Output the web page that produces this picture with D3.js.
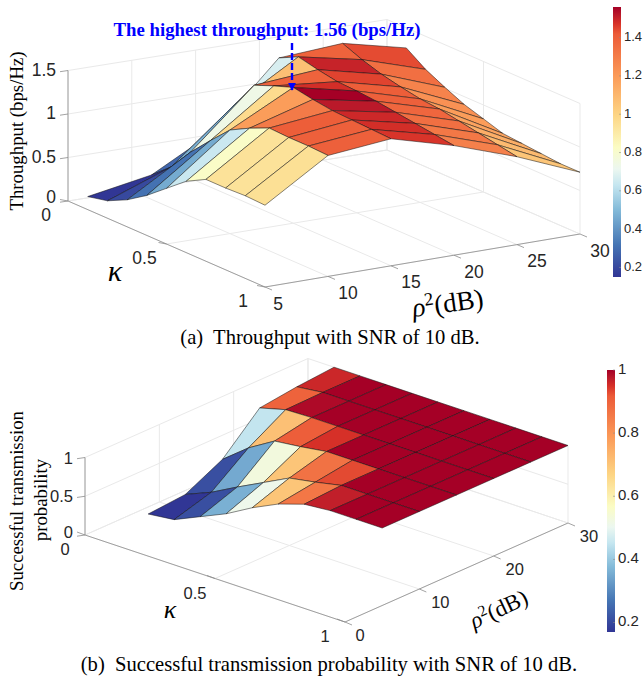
<!DOCTYPE html>
<html>
<head>
<meta charset="utf-8">
<script src="https://cdnjs.cloudflare.com/ajax/libs/d3/7.8.5/d3.min.js"></script>
<style>
  html, body { margin: 0; padding: 0; background: #fff; }
  svg { display: block; }
  text { font-family: "Liberation Sans", Arial, sans-serif; fill: #262626; }
  .serif { font-family: "Liberation Serif", "Times New Roman", serif; fill: #000; }
</style>
</head>
<body>
<svg id="chart" width="643" height="679"></svg>
<script>
//// DATA

const kappaValues = [0.1, 0.2, 0.3, 0.4, 0.5, 0.6, 0.7, 0.8, 0.9, 1]
const rhoValues = [5, 10, 15, 20, 25, 30]

// rows follow kappaValues, columns follow rhoValues
const throughput = [
  [0.15, 0.28, 0.67, 1.39, 1.44, 1.27],
  [0.20, 0.47, 1.07, 1.50, 1.35, 1.12],
  [0.31, 0.74, 1.39, 1.45, 1.28, 1.01],
  [0.46, 0.97, 1.48, 1.41, 1.23, 0.91],
  [0.64, 1.19, 1.56, 1.40, 1.19, 0.84],
  [0.82, 1.31, 1.52, 1.38, 1.17, 0.77],
  [0.94, 1.41, 1.49, 1.35, 1.13, 0.75],
  [0.94, 1.40, 1.48, 1.32, 1.09, 0.73],
  [0.95, 1.40, 1.47, 1.29, 1.05, 0.71],
  [0.94, 1.39, 1.46, 1.26, 1.01, 0.71]
]
const probability = [
  [0.17, 0.21, 0.45, 0.90, 0.96, 1.00],
  [0.21, 0.35, 0.71, 0.99, 1.00, 1.00],
  [0.36, 0.53, 0.91, 1.00, 1.00, 1.00],
  [0.51, 0.70, 0.95, 1.00, 1.00, 1.00],
  [0.70, 0.87, 1.00, 1.00, 1.00, 1.00],
  [0.86, 0.93, 1.00, 1.00, 1.00, 1.00],
  [0.97, 1.00, 1.00, 1.00, 1.00, 1.00],
  [1.00, 1.00, 1.00, 1.00, 1.00, 1.00],
  [1.00, 1.00, 1.00, 1.00, 1.00, 1.00],
  [1.00, 1.00, 1.00, 1.00, 1.00, 1.00]
]

const kappaTicks = [0, 0.5, 1]
const rhoTicksA = [5, 10, 15, 20, 25, 30]
const rhoTicksB = [0, 10, 20, 30]
const zTicksA = [0, 0.5, 1, 1.5]
const zTicksB = [0, 0.5, 1]
const barTicksA = [0.2, 0.4, 0.6, 0.8, 1, 1.2, 1.4]
const barTicksB = [0.2, 0.4, 0.6, 0.8, 1]

// colormap, position along the bar then colour
const mapStops = [0, 0.12, 0.25, 0.34, 0.40, 0.48, 0.6, 0.745, 0.90, 0.94, 0.97, 1]
const mapColors = ["#313695", "#4575b4", "#84bbd9", "#c5e6f0", "#ecf7f0", "#fbfcc4",
  "#fdd584", "#fb9a58", "#ec5b38", "#d63028", "#bb1a2a", "#a50026"]

const gridColor = "#e9e9e9"
const axisColor = "#8c8c8c"

const svg = d3.select("#chart")

//// 3D BOX

// the ground of each box is a quad given by its four screen corners,
// kappa and rho are mapped to 0..1 and the corners blended (slight perspective)
function mkProjection(cfg) {
  const kScale = d3.scaleLinear().domain([0, 1]).range([0, 1])
  const rScale = d3.scaleLinear().domain(cfg.rhoDomain).range([0, 1])
  const zScale = d3.scaleLinear().domain([0, 1]).range([0, cfg.zPx])
  return (k, r, z) => {
    const a = kScale(k), b = rScale(r)
    const blend = i => (1-a)*(1-b)*cfg.origin[i] + a*(1-b)*cfg.front[i]
      + a*b*cfg.right[i] + (1-a)*b*cfg.back[i]
    return [blend(0), blend(1) - zScale(z)]
  }
}

function addLine(g, p, q, color, width) {
  g.append("line")
    .attr("x1", p[0]).attr("y1", p[1])
    .attr("x2", q[0]).attr("y2", q[1])
    .attr("stroke", color)
    .attr("stroke-width", width)
}

function drawBox(g, cfg, project) {
  const [r0, r1] = cfg.rhoDomain
  const zTop = d3.max(cfg.zTicks)

  // floor grid
  cfg.rhoTicks.forEach(r => addLine(g, project(0, r, 0), project(1, r, 0), gridColor, 1))
  kappaTicks.forEach(k => addLine(g, project(k, r0, 0), project(k, r1, 0), gridColor, 1))

  // back walls
  cfg.zTicks.forEach(z => {
    addLine(g, project(0, r0, z), project(0, r1, z), gridColor, 1)
    addLine(g, project(0, r1, z), project(1, r1, z), gridColor, 1)
  })
  cfg.rhoTicks.forEach(r => addLine(g, project(0, r, 0), project(0, r, zTop), gridColor, 1))
  kappaTicks.forEach(k => addLine(g, project(k, r1, 0), project(k, r1, zTop), gridColor, 1))

  // axis lines and ticks
  addLine(g, project(0, r0, 0), project(0, r0, zTop), axisColor, 0.8)
  addLine(g, project(0, r0, 0), project(1, r0, 0), axisColor, 0.8)
  addLine(g, project(1, r0, 0), project(1, r1, 0), axisColor, 0.8)

  cfg.zTicks.forEach(z => {
    const p = project(0, r0, z)
    addLine(g, p, [p[0]-8, p[1]+1.2], axisColor, 0.8)
    g.append("text")
      .attr("x", cfg.zLabelX)
      .attr("y", p[1] + (z == 0 ? cfg.zLabelDy-3 : cfg.zLabelDy))
      .attr("text-anchor", "end")
      .style("font-size", cfg.tickFont + "px")
      .text(z)
  })
  kappaTicks.forEach(k => {
    const p = project(k, r0, 0)
    addLine(g, p, [p[0]-cfg.kTick[0], p[1]+cfg.kTick[1]], axisColor, 0.8)
    g.append("text")
      .attr("x", p[0] + cfg.kLabel[0])
      .attr("y", p[1] + cfg.kLabel[1])
      .attr("text-anchor", "middle")
      .attr("dominant-baseline", "middle")
      .style("font-size", cfg.tickFont + "px")
      .text(k)
  })
  cfg.rhoTicks.forEach(r => {
    const p = project(1, r, 0)
    addLine(g, p, [p[0]+cfg.rTick[0], p[1]+cfg.rTick[1]], axisColor, 0.8)
    const off = r == r0 ? cfg.rLabelFirst : cfg.rLabel
    g.append("text")
      .attr("x", p[0] + off[0])
      .attr("y", p[1] + off[1])
      .attr("text-anchor", "middle")
      .attr("dominant-baseline", "middle")
      .style("font-size", cfg.tickFont + "px")
      .text(r)
  })
}

//// SURFACE

function drawSurface(g, cfg, project, color) {
  // painter's order: far corner is low kappa, high rho
  const facets = []
  for (let j = rhoValues.length-2; j >= 0; j--) {
    for (let i = 0; i < kappaValues.length-1; i++) {
      facets.push({i, j})
    }
  }
  const pt = (i, j) => project(kappaValues[i], rhoValues[j], cfg.values[i][j])
  const outline = ({i, j}) => d3.line()([pt(i,j), pt(i+1,j), pt(i+1,j+1), pt(i,j+1)]) + "Z"

  g.selectAll(".facet")
    .data(facets)
    .join("path")
    .attr("class", "facet")
    .attr("d", outline)
    .attr("fill", ({i, j}) => color(cfg.values[i][j]))
    .attr("stroke", "#111")
    .attr("stroke-width", 0.5)
    .attr("stroke-linejoin", "round")
}

//// COLORBAR

function drawColorbar(g, cfg, color) {
  const [zMin, zMax] = color.domain()
  const {x, y0, y1, width} = cfg.bar
  const yScale = d3.scaleLinear().domain([zMin, zMax]).range([y1, y0])

  const gradId = "grad-" + cfg.id
  const grad = g.append("linearGradient")
    .attr("id", gradId)
    .attr("x1", 0).attr("x2", 0).attr("y1", 1).attr("y2", 0)
  mapStops.forEach((t, i) => {
    grad.append("stop")
      .attr("offset", t)
      .attr("stop-color", mapColors[i])
  })

  g.append("rect")
    .attr("x", x).attr("y", y0)
    .attr("width", width).attr("height", y1-y0)
    .attr("fill", `url(#${gradId})`)

  cfg.barTicks.forEach(v => {
    addLine(g, [x+width-2, yScale(v)], [x+width, yScale(v)], axisColor, 0.6)
    g.append("text")
      .attr("x", x + width + 3)
      .attr("y", yScale(v))
      .attr("dominant-baseline", "middle")
      .style("font-size", cfg.barFont + "px")
      .text(v)
  })
}

//// PANELS

function drawPanel(cfg) {
  const g = svg.append("g").attr("class", "panel-" + cfg.id)
  const project = mkProjection(cfg)
  const zMin = d3.min(cfg.values.flat())
  const zMax = d3.max(cfg.values.flat())
  const toBar = d3.scaleLinear().domain([zMin, zMax]).range([0, 1])
  const stopColor = d3.scaleLinear().domain(mapStops).range(mapColors)
  const color = v => stopColor(toBar(v))
  color.domain = () => [zMin, zMax]

  drawBox(g, cfg, project)
  drawSurface(g, cfg, project, color)
  drawColorbar(g, cfg, color)
  return g
}

drawPanel({
  id: "a",
  values: throughput,
  rhoDomain: [5, 30],
  origin: [68, 201], front: [265, 287], right: [580, 234], back: [387, 150],
  zPx: 87,
  zTicks: zTicksA,
  rhoTicks: rhoTicksA,
  barTicks: barTicksA,
  tickFont: 17.5,
  barFont: 13,
  zLabelX: 56,
  zLabelDy: 5,
  kTick: [8, -1.5],
  rTick: [7, 3],
  kLabel: [-22, 15],
  rLabel: [20, 18],
  rLabelFirst: [13, 18],
  bar: {x: 613, y0: 7, y1: 277, width: 8}
})

drawPanel({
  id: "b",
  values: probability,
  rhoDomain: [0, 30],
  origin: [85, 535], front: [345, 622], right: [568, 523], back: [308, 436],
  zPx: 77.5,
  zTicks: zTicksB,
  rhoTicks: rhoTicksB,
  barTicks: barTicksB,
  tickFont: 16.5,
  barFont: 15,
  zLabelX: 73,
  zLabelDy: 6,
  kTick: [8, -3],
  rTick: [7, 3],
  kLabel: [-20, 16],
  rLabel: [21, 15],
  rLabelFirst: [15, 15],
  bar: {x: 607, y0: 370, y1: 632, width: 8}
})

//// TEXT

function serif(x, y, text, size, rotate) {
  const t = svg.append("text")
    .attr("class", "serif")
    .attr("x", x).attr("y", y)
    .attr("text-anchor", "middle")
    .style("font-size", size + "px")
    .text(text)
  if (rotate) t.attr("transform", `rotate(${rotate} ${x} ${y})`)
  return t
}

serif(23, 131, "Throughput (bps/Hz)", 18.8, -90)
serif(23, 501, "Successful transmission", 18.8, -90)
serif(47, 500, "probability", 18.8, -90)

serif(115, 281, "κ", 30).style("font-style", "italic")
serif(170, 618, "κ", 26).style("font-style", "italic")

// rho axis labels
function rhoLabel(x, y, size, rotate) {
  const t = svg.append("text")
    .attr("class", "serif")
    .attr("text-anchor", "middle")
    .attr("transform", `translate(${x},${y}) rotate(${rotate})`)
    .style("font-size", size + "px")
  t.append("tspan").style("font-style", "italic").text("ρ")
  t.append("tspan").attr("dy", -size*0.35).style("font-size", size*0.68 + "px").text("2")
  t.append("tspan").attr("dy", size*0.35).text("(dB)")
}
rhoLabel(449, 312, 27, -8)
rhoLabel(502, 616, 23, -25)

serif(330, 344, "(a)  Throughput with SNR of 10 dB.", 20.6).style("white-space", "pre")
serif(329, 671, "(b)  Successful transmission probability with SNR of 10 dB.", 20.6).style("white-space", "pre")

// annotation for the peak in panel (a)
serif(267, 36, "The highest throughput: 1.56 (bps/Hz)", 18.8)
  .style("font-weight", "bold")
  .style("fill", "#0000ff")

svg.append("defs").append("marker")
  .attr("id", "tip")
  .attr("viewBox", "0 0 10 10")
  .attr("refX", 9).attr("refY", 5)
  .attr("markerWidth", 3.4).attr("markerHeight", 3.4)
  .attr("markerUnits", "strokeWidth")
  .attr("orient", "auto")
  .append("path")
  .attr("d", "M0,0L10,5L0,10Z")
  .attr("fill", "#0000ff")

svg.append("line")
  .attr("x1", 292).attr("y1", 43)
  .attr("x2", 292).attr("y2", 90)
  .attr("stroke", "#0000ff")
  .attr("stroke-width", 2.4)
  .attr("stroke-dasharray", "7 3")
  .attr("marker-end", "url(#tip)")
</script>
</body>
</html>
